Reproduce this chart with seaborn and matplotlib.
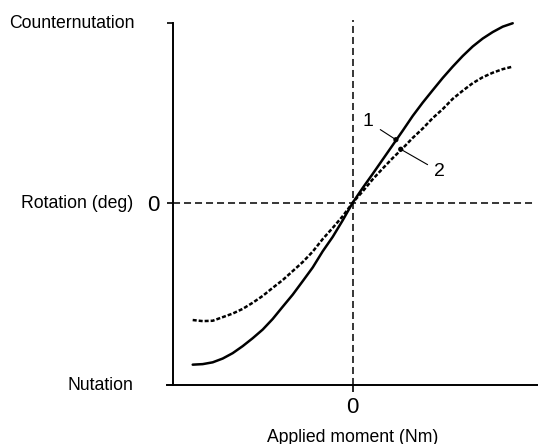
import matplotlib
matplotlib.use("Agg")
import matplotlib.pyplot as plt
import seaborn as sns
import pandas as pd

# ---- data ----
moment = [-1.0, -0.9375, -0.875, -0.8125, -0.75, -0.6875, -0.625, -0.5625,
          -0.5, -0.4375, -0.375, -0.3125, -0.25, -0.1875, -0.125, -0.0625, 0.0,
          0.0625, 0.125, 0.1875, 0.25, 0.3125, 0.375, 0.4375, 0.5,
          0.5625, 0.625, 0.6875, 0.75, 0.8125, 0.875, 0.9375, 1.0]
rotation_1 = [-0.900, -0.897, -0.887, -0.866, -0.836, -0.797, -0.753, -0.705,
              -0.646, -0.578, -0.511, -0.436, -0.360, -0.270, -0.190, -0.098, 0.0,
              0.082, 0.160, 0.240, 0.320, 0.400, 0.482, 0.556, 0.625,
              0.693, 0.756, 0.815, 0.868, 0.912, 0.948, 0.978, 0.997]
rotation_2 = [-0.652, -0.658, -0.656, -0.636, -0.616, -0.590, -0.556, -0.518,
              -0.473, -0.430, -0.380, -0.330, -0.272, -0.202, -0.140, -0.075, 0.0,
              0.063, 0.130, 0.190, 0.248, 0.302, 0.360, 0.412, 0.470,
              0.520, 0.577, 0.622, 0.664, 0.697, 0.722, 0.742, 0.756]
marker_x = [0.27, 0.30]
marker_y = [0.35, 0.297]
marker_labels = ["1", "2"]
label_x = [0.096, 0.545]
label_y = [0.45, 0.172]
y_top_label = "Counternutation"
y_bottom_label = "Nutation"
y_axis_label = "Rotation (deg)"
x_axis_label = "Applied moment (Nm)"

sns.set_style("white")
plt.rcParams["font.family"] = ["Liberation Sans", "DejaVu Sans"]
plt.rcParams["text.color"] = "black"
plt.rcParams["axes.labelcolor"] = "black"
plt.rcParams["xtick.color"] = "black"
plt.rcParams["ytick.color"] = "black"

W, H = 538, 444
fig = plt.figure(figsize=(W / 100, H / 100), dpi=100)
ax = fig.add_axes([166.7 / W, 1 - 385 / H, (538 - 166.7) / W, (385 - 20) / H])

df1 = pd.DataFrame({"x": moment, "y": rotation_1})
df2 = pd.DataFrame({"x": moment, "y": rotation_2})

ax.axhline(0, xmin=0.016, xmax=0.9865, color="black", lw=1.1,
           linestyle=(0, (4.6, 2.6)), zorder=1)
ax.axvline(0, color="black", lw=1.1, linestyle=(0, (4.6, 2.6)), zorder=1)

sns.lineplot(data=df1, x="x", y="y", ax=ax, color="black", lw=1.8, zorder=3)
sns.lineplot(data=df2, x="x", y="y", ax=ax, color="black", lw=1.8,
             linestyle=(0, (1.6, 0.8)), zorder=3)
sns.scatterplot(x=marker_x, y=marker_y, ax=ax, color="black", s=14,
                edgecolor="none", zorder=4)
for mx, my, lab, lx, ly in zip(marker_x, marker_y, marker_labels, label_x, label_y):
    ax.annotate(lab, xy=(mx, my), xytext=(lx, ly), ha="center", va="center",
                fontsize=14, color="black",
                arrowprops=dict(arrowstyle="-", lw=0.8, color="black",
                                shrinkA=3, shrinkB=0))

ax.set_xlim(-1.1625, 1.158)
ax.set_ylim(-1.013, 1.015)
ax.set_xlabel("")
ax.set_ylabel("")

for s in ["top", "right"]:
    ax.spines[s].set_visible(False)
ax.spines["left"].set_position(("data", -1.125))
ax.spines["left"].set_bounds(-1.013, 1.0)
for s in ["left", "bottom"]:
    ax.spines[s].set_linewidth(1.4)
    ax.spines[s].set_color("black")

ax.set_xticks([0])
ax.set_xticklabels(["0"], fontsize=16)
ax.set_yticks([0, 1.0])
ax.set_yticklabels(["0", ""], fontsize=16)
ax.tick_params(axis="x", direction="out", length=4.8, width=1.2, pad=4,
               bottom=True, colors="black")
ax.tick_params(axis="y", direction="out", length=4.3, width=1.2, pad=5,
               left=True, colors="black")

fig.text(135 / W, 1 - 23 / H, y_top_label, ha="right", va="center", fontsize=12.7)
fig.text(133 / W, 1 - 204 / H, y_axis_label, ha="right", va="center", fontsize=12.7)
fig.text(133 / W, 1 - 385 / H, y_bottom_label, ha="right", va="center", fontsize=12.7)
fig.text(352.7 / W, 1 - 437 / H, x_axis_label, ha="center", va="center", fontsize=12.7)

fig.savefig("out.png", dpi=100)
